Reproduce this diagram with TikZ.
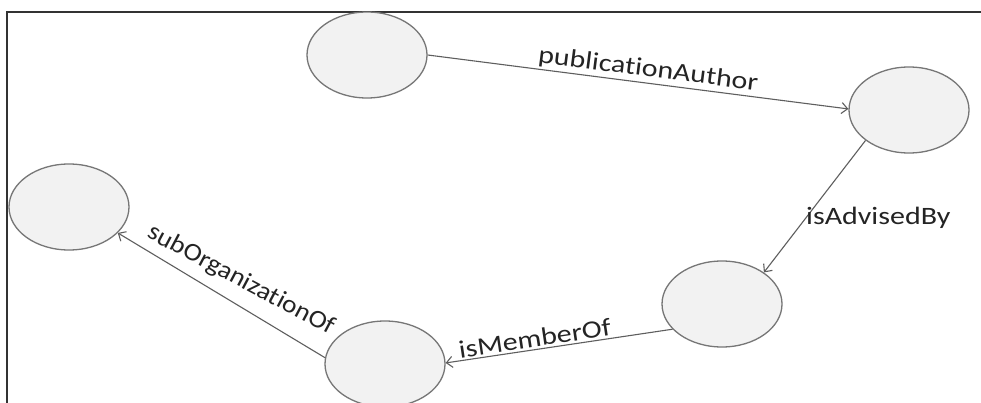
\documentclass[tikz,border=0pt]{standalone}
\usepackage{fontspec}
\setmainfont{Carlito}[FakeStretch=1.2,Ligatures=NoCommon]
\newfontfamily\lblsubfont{Carlito}[FakeStretch=1.1,Ligatures=NoCommon]
\usetikzlibrary{shapes.geometric,arrows.meta}
\definecolor{nodefill}{HTML}{F2F2F2}
\definecolor{edgegray}{HTML}{767676}
\definecolor{linkgray}{HTML}{5E5E5E}
\definecolor{labelcol}{HTML}{242424}
\definecolor{framecol}{HTML}{333333}
\begin{document}
\begin{tikzpicture}[x=1pt,y=-1pt,
  onode/.style={ellipse,draw=edgegray,fill=nodefill,line width=1.3pt,minimum width=120pt,minimum height=86pt,inner sep=0pt},
  link/.style={draw=linkgray,line width=1.1pt,-{Straight Barb[length=6pt,width=11pt]}},
  lbl/.style={font=\fontsize{25}{30}\selectfont,text=labelcol,inner sep=2pt}]
\useasboundingbox (0,0) rectangle (981,403);
\fill[white] (0,0) rectangle (981,403);
\draw[framecol,line width=2pt] (7,403) -- (7,12) -- (981,12);
\node[onode] (A) at (367,55) {};
\node[onode] (B) at (909,110) {};
\node[onode] (C) at (722,304) {};
\node[onode] (D) at (385,364) {};
\node[onode] (E) at (69,207) {};
\draw[link] (A.east) -- node[lbl,sloped,above,pos=0.52] (lPub) {publicationAuthor} (B.179);
\draw[link] (B.215) -- (C.37);
\node[lbl,anchor=base west,inner sep=0pt] (lAdv) at (806,225) {isAdvisedBy};
\draw[link] (C.207) -- node[lbl,sloped,above,pos=0.6] (lMem) {isMemberOf} (D.1);
\draw[link] (D.174) -- (E.332);
\node[lbl,font=\lblsubfont\fontsize{25}{30}\selectfont,rotate=-28] (lSub) at (241,280) {subOrganizationOf};
\end{tikzpicture}
\end{document}
